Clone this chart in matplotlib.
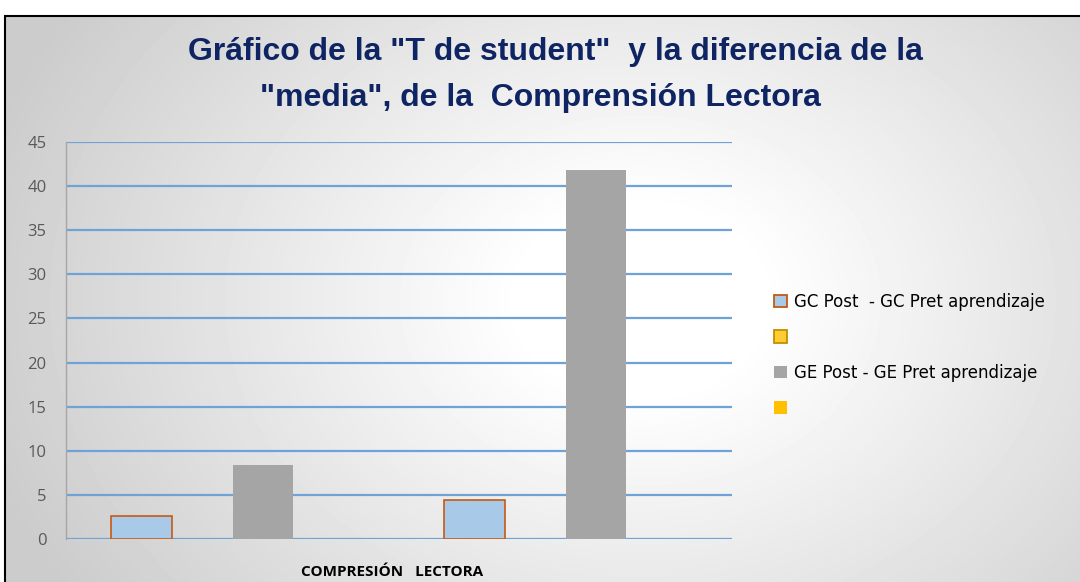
import numpy as np
import matplotlib
matplotlib.use("Agg")
import matplotlib.pyplot as plt
from matplotlib.patches import Patch, Rectangle

# datos
categorias = ["", ""]
gc_post_pret = [2.6, 4.5]
serie_vacia_1 = [0, 0]
ge_post_pret = [8.4, 41.8]
serie_vacia_2 = [0, 0]
etiquetas = ["GC Post  - GC Pret aprendizaje", "", "GE Post - GE Pret aprendizaje", ""]
y_ticks = [0, 5, 10, 15, 20, 25, 30, 35, 40, 45]

W, H = 1080, 582
fig = plt.figure(figsize=(W / 100, H / 100), dpi=100)
fig.patch.set_facecolor("white")

# fondo con degradado radial
bg = fig.add_axes([5 / W, 0, 1 - 5 / W, 1 - 16 / H])
bg.set_axis_off()
xx, yy = np.meshgrid(np.arange(5, W), np.arange(16, H))
d = np.hypot(xx - 640, (yy - 300) * 1.3)
t = np.clip((d - 120) / 560, 0, 1)
val = 1 - 0.20 * t
bg.imshow(val, cmap="gray", vmin=0, vmax=1, aspect="auto", extent=[0, 1, 0, 1])
bg.set_xlim(0, 1)
bg.set_ylim(0, 1)
fig.add_artist(Rectangle((5 / W, -0.1), 1.2, 1 - 16 / H + 0.1, transform=fig.transFigure,
                         fill=False, edgecolor="black", linewidth=1.5))

ax = fig.add_axes([66 / W, 42.7 / H, 666 / W, 397.6 / H])
ax.patch.set_alpha(0)

x = np.arange(len(categorias))
w = 0.183
ax.bar(x - 1.5 * w, gc_post_pret, w, color="#a9c9e8", edgecolor="#c55a11", linewidth=1.2, zorder=3)
ax.bar(x - 0.5 * w, serie_vacia_1, w, color="#ffcc33", zorder=3)
ax.bar(x + 0.5 * w, ge_post_pret, w, color="#a5a5a5", zorder=3)
ax.bar(x + 1.5 * w, serie_vacia_2, w, color="#ffc000", zorder=3)

ax.set_xlim(-0.5, 1.5)
ax.set_ylim(0, 45)
ax.set_yticks(y_ticks)
ax.set_xticks(x)
ax.set_xticklabels(categorias)
ax.tick_params(axis="both", length=0)
ax.tick_params(axis="y", labelsize=12, labelcolor="#595959", pad=14)
for lab in ax.get_yticklabels():
    lab.set_fontfamily("Open Sans")
ax.grid(axis="y", color="#6fa3d8", linewidth=1.6, zorder=1)
for s in ["top", "right", "bottom"]:
    ax.spines[s].set_visible(False)
ax.spines["left"].set_color("#a6a6a6")
ax.spines["left"].set_linewidth(1)

ax.set_xlabel("COMPRESIÓN   LECTORA", fontsize=11, fontweight="bold", fontfamily="Open Sans",
              color="black")
ax.xaxis.set_label_coords(0.49, -0.082)
ax.xaxis.label.set_va("center")

handles = [
    Patch(facecolor="#a9c9e8", edgecolor="#c55a11", linewidth=1.3),
    Patch(facecolor="#ffcc33", edgecolor="#bf9000", linewidth=1.3),
    Patch(facecolor="#a5a5a5"),
    Patch(facecolor="#ffc000"),
]
fig.legend(handles, etiquetas, loc="center left", bbox_to_anchor=(759 / W, 1 - 355 / H),
           frameon=False, prop={"family": "DejaVu Sans", "size": 12},
           handlelength=0.8, handleheight=0.8, handletextpad=0.4, labelspacing=1.05)

fig.text(555 / W, 1 - 52 / H, 'Gráfico de la "T de student"  y la diferencia de la',
         ha="center", va="center", fontsize=23, fontweight="bold", color="#0e2463",
         fontfamily="Liberation Sans")
fig.text(540 / W, 1 - 98 / H, '"media", de la  Comprensión Lectora',
         ha="center", va="center", fontsize=23, fontweight="bold", color="#0e2463",
         fontfamily="Liberation Sans")

fig.savefig("out.png", dpi=100)
